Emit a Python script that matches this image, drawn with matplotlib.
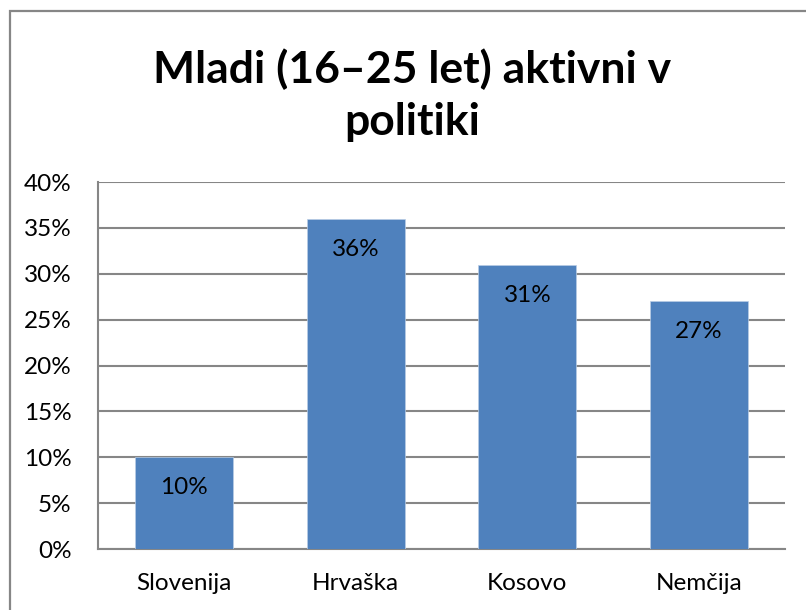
import matplotlib
matplotlib.use("Agg")
import matplotlib.pyplot as plt
from matplotlib.patches import Rectangle
from matplotlib.ticker import MultipleLocator, FuncFormatter

categories = ["Slovenija", "Hrvaška", "Kosovo", "Nemčija"]
values = [10, 36, 31, 27]
title = "Mladi (16–25 let) aktivni v\npolitiki"

plt.rcParams['font.family'] = ['Lato', 'DejaVu Sans']

W, H = 806, 610
fig = plt.figure(figsize=(W / 100, H / 100), dpi=100)
fig.patch.set_facecolor("white")

# figure border (cropped at right and bottom)
fig.add_artist(Rectangle((9.5 / W, -0.5), 2.0, 1 - 10.5 / H + 0.5,
                         transform=fig.transFigure, fill=False,
                         edgecolor="#868686", linewidth=1.6, zorder=0))

ax = fig.add_axes([98 / W, 1 - 549 / H, (785 - 98) / W, (549 - 182) / H])
x = range(len(categories))
ax.bar(x, values, width=0.571, color="#4F81BD", edgecolor="#B9CDE5",
       linewidth=0.5, zorder=3)
ax.set_xlim(-0.5, len(categories) - 0.5)
ax.set_ylim(0, 40)
ax.yaxis.set_major_locator(MultipleLocator(5))
ax.yaxis.set_major_formatter(FuncFormatter(lambda v, p: f"{int(v)}%"))
ax.set_xticks(list(x))
ax.set_xticklabels(categories)
ax.grid(axis="y", color="#868686", linewidth=1.5, zorder=0)
ax.tick_params(axis="both", length=0, labelsize=17.5, colors="black")
ax.tick_params(axis="x", pad=17)
ax.tick_params(axis="y", pad=19)
for lbl in ax.get_yticklabels():
    lbl.set_horizontalalignment("right")
for s in ["top", "right"]:
    ax.spines[s].set_visible(False)
for s in ["left", "bottom"]:
    ax.spines[s].set_color("#868686")
    ax.spines[s].set_linewidth(1.5)

for xi, v in zip(x, values):
    ax.annotate(f"{v}%", (xi, v), xytext=(0, -22), textcoords="offset points",
                ha="center", va="center", fontsize=17.5, color="black", zorder=4)

fig.text(412 / W, 1 - 95 / H, title, ha="center", va="center",
         fontsize=32, fontweight="bold", linespacing=1.38)

fig.savefig("out.png", dpi=100)
